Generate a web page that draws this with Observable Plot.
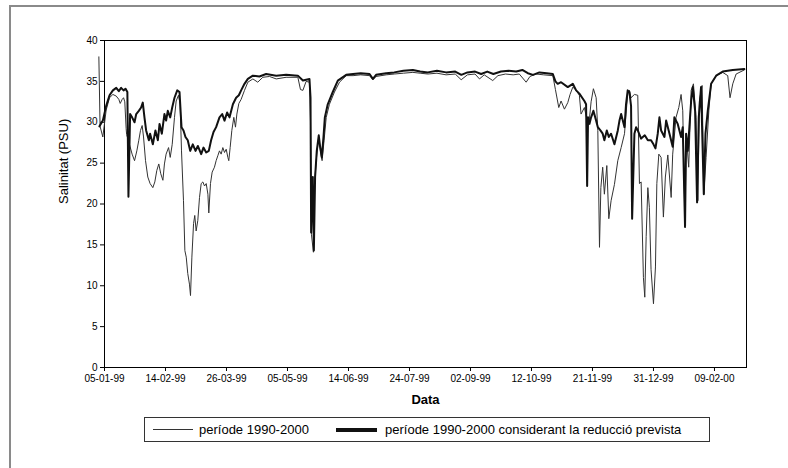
<!DOCTYPE html>
<html>
<head>
<meta charset="utf-8">
<script src="https://cdn.jsdelivr.net/npm/d3@7"></script>
<script src="https://cdn.jsdelivr.net/npm/@observablehq/plot@0.6"></script>
<style>
  body { margin: 0; background: #fff; }
  #wrap { position: relative; width: 788px; height: 468px; background: #fff; overflow: hidden;
          font-family: "Liberation Sans", Arial, sans-serif; color: #000; }
  #outer { position: absolute; left: 9px; top: 5px; width: 800px; height: 480px;
           border-left: 2px solid #8a8a8a; border-top: 2px solid #8a8a8a; pointer-events: none; }
  #legend { position: absolute; left: 144px; top: 417px; width: 564px; height: 23px;
            border: 1px solid #333; background: #fff; font-size: 13px; }
  #legend span { position: absolute; white-space: nowrap; }
</style>
</head>
<body>
<div id="wrap">
  <div id="chart"></div>
  <div id="legend">
    <span style="left:8px; top:11px; width:40px; border-top:1px solid #333;"></span>
    <span id="lab1" style="left:54px; top:4px;"></span>
    <span style="left:191px; top:10px; width:41px; border-top:4px solid #111;"></span>
    <span id="lab2" style="left:240px; top:4px;"></span>
  </div>
  <div id="outer"></div>
</div>
<script>
// ---- data (days counted from 05-01-1999) ----
const seriesNames = ["període 1990-2000", "període 1990-2000 considerant la reducció prevista"];
const tickDates = ["1999-01-05","1999-02-14","1999-03-26","1999-05-05","1999-06-14","1999-07-24","1999-09-02","1999-10-12","1999-11-21","1999-12-31","2000-02-09"];
const tickLabels = ["05-01-99","14-02-99","26-03-99","05-05-99","14-06-99","24-07-99","02-09-99","12-10-99","21-11-99","31-12-99","09-02-00"];
const yTicks = [0,5,10,15,20,25,30,35,40];

const thinDays = [-3.7,-2.9,-1.1,1.1,3.3,5.5,7.7,9.4,10.3,11.6,12.5,13.3,14.2,14.5,16.8,18.1,19.7,21.2,22.5,23.6,24.7,25.6,26.9,28.4,29.9,31.7,33.0,34.3,35.6,36.9,38.3,39.3,40.4,42.0,43.1,44.4,45.9,47.0,48.5,49.6,50.5,51.8,52.7,53.6,54.6,55.7,56.4,57.3,58.4,59.2,60.1,61.2,62.3,63.4,64.5,65.6,66.7,67.8,68.4,69.5,70.6,72.1,73.2,74.3,75.4,76.5,77.6,78.7,79.8,80.9,81.5,82.4,83.5,84.8,85.9,86.8,88.1,89.6,91.8,94.0,97.3,100.5,103.8,108.2,112.6,119.1,126.8,128.5,130.1,132.2,134.4,135.1,135.7,137.0,137.9,139.2,140.5,141.9,142.7,144.0,145.4,147.5,150.8,154.1,158.5,163,168,173.8,176.0,178.1,184.7,190,196,202.2,207,212,218,224,230,233.9,238,243,245.9,249,254.6,258,263,268,272,276.5,279,283,288,294,295.7,297.9,299.4,301.6,303.8,305.3,307.1,309.3,311.4,312.5,314.7,316.5,318,319.1,320.6,322.4,323.5,324.6,325.5,326.7,327.8,329.4,330.7,332.2,334.4,336.6,338.8,341.0,342.0,343.1,344.2,345.3,347.5,349.7,350.8,351.9,353.4,354.3,355.2,356.3,357.3,358.4,360.0,361.3,362.2,363.5,365.0,366.5,367.8,369.4,371.6,372.6,374.8,376.6,378.1,379.2,380.7,381.4,383.1,384.7,386.2,387.9,389.1,390.1,391.9,393.0,394.5,396.3,397.8,401.1,405.4,408.7,410.2,412.0,414.2,419.6];
const thinValues = [38.0,29.5,28.2,31.5,33.0,33.4,33.2,32.8,32.3,32.8,33.0,32.5,29.2,28.5,27.0,26.1,25.3,26.5,27.8,29.0,29.6,28.2,25.3,23.3,22.5,22.0,22.7,24.1,24.9,23.7,22.9,24.9,26.1,26.9,25.7,27.3,30.6,32.6,33.3,32.2,26.5,20.4,14.3,13.5,11.5,10.2,8.8,13.5,17.6,18.6,16.7,18.0,20.8,22.5,22.7,22.2,22.5,21.2,18.9,22.5,23.9,24.5,25.3,25.9,26.5,26.1,26.9,26.3,26.7,25.7,25.3,26.9,29.0,30.6,29.4,31.0,32.3,32.8,33.9,34.9,35.3,34.9,35.5,35.6,35.3,35.5,35.5,34.0,33.9,35.0,34.9,30.0,16.3,14.1,22.9,26.1,28.2,26.1,25.3,27.8,30.6,32.2,33.7,34.9,35.7,35.7,35.8,35.7,35.2,35.6,35.8,35.9,36.0,36.1,36.0,35.9,36.0,35.8,35.9,35.2,35.8,35.9,35.3,35.8,35.1,35.7,35.9,35.8,35.9,34.9,35.6,35.9,35.8,35.7,34.0,31.8,32.6,31.6,32.4,33.4,34.3,33.9,33.3,31.0,31.8,30.2,30.4,32.5,34.1,33.0,29.0,14.7,22.0,24.5,21.2,24.7,18.2,20.4,22.4,25.3,26.9,28.6,31.0,33.5,33.9,33.0,33.4,33.3,22.5,22.7,11.0,8.6,16.0,22.0,19.6,12.0,7.8,12.3,22.5,26.1,25.7,18.4,23.3,26.0,20.8,26.1,30.6,31.8,33.4,31.4,17.2,28.6,24.5,33.9,34.7,30.6,20.4,32.6,34.5,21.2,25.7,31.4,34.7,35.7,36.1,35.7,33.0,34.7,35.9,36.4];

const thickDays = [-3.3,-1.1,1.1,3.3,5.5,7.7,9.4,10.9,12.5,13.8,15.0,15.3,15.7,16.8,18.1,19.7,20.8,22.5,24.0,25.1,26.2,27.3,29.1,29.9,31.7,33.4,35.0,36.1,37.6,39.3,40.4,41.5,43.1,44.4,45.9,47.7,49.2,50.5,51.8,53.1,54.6,56.2,57.9,59.7,61.2,63.4,64.9,66.7,68.4,69.9,71.5,73.2,75.4,77.2,78.7,80.4,82.0,84.2,86.3,88.1,89.6,91.8,94.0,97.3,101.6,106.0,112.6,119.1,126.8,130.1,134.4,135.1,135.5,136.6,137.3,138.1,139.2,140.5,141.4,142.5,143.6,144.5,146.4,149.7,153.0,158.5,163,168,173.8,176.0,178.1,184.7,190,196,202.2,207,212,218,224,230,234,238,243,247,251,255,260,265,270,274,277.6,281,285.2,290,294,295.7,297.2,299.4,303.8,307.1,309.3,311.4,314.7,315.8,316.5,317.1,318.0,319.1,320.6,322.4,323.5,325.2,326.7,327.8,329.4,330.7,332.2,334.4,336.6,337.7,338.8,341.0,342.0,343.1,344.2,345.3,346.0,347.5,348.6,349.7,351.9,354.3,356.3,358.4,360.0,361.3,362.8,363.9,365.0,367.2,368.3,370.5,372.6,373.7,375.9,378.1,379.2,380.7,381.4,382.5,384.7,385.8,387.3,388.6,389.7,391.2,393.0,394.1,395.6,397.8,401.1,405.4,412.0,419.6];
const thickValues = [29.5,30.2,32.0,33.3,33.9,34.2,33.8,34.2,33.9,34.1,33.7,28.2,20.9,31.0,30.6,30.0,31.0,31.4,31.8,32.4,30.6,29.0,27.8,28.6,27.3,29.0,27.8,29.8,28.6,31.0,30.2,31.4,30.6,31.8,33.0,33.9,33.7,29.4,29.0,28.2,27.8,26.5,27.3,26.5,27.1,26.1,26.9,26.3,26.5,27.8,28.8,29.4,30.6,31.0,30.2,31.2,30.6,32.2,33.0,33.3,33.9,34.7,35.3,35.7,35.6,35.9,35.7,35.8,35.7,35.1,35.3,33.0,16.5,23.3,14.3,23.3,26.5,28.4,27.0,25.7,28.2,30.6,32.2,33.7,35.1,35.8,35.9,36.0,35.9,35.3,35.8,36.0,36.1,36.3,36.4,36.2,36.1,36.3,36.1,36.2,35.8,36.1,36.2,35.9,36.2,35.9,36.2,36.3,36.2,36.4,36.0,35.8,36.1,36.0,35.9,35.0,34.7,34.9,34.3,34.7,33.9,33.5,32.6,32.2,22.2,30.6,29.8,30.6,31.4,30.2,29.4,29.0,28.6,27.8,29.0,28.2,28.6,27.3,29.0,30.2,31.0,29.4,32.2,33.9,33.7,32.0,18.2,28.6,29.4,29.0,28.0,28.4,27.8,27.8,27.3,26.8,28.6,30.6,29.0,28.2,30.2,28.6,27.0,30.6,29.8,28.2,29.4,17.2,28.6,26.5,32.6,34.3,31.4,20.2,30.6,34.3,21.2,28.6,31.4,34.7,35.7,36.2,36.4,36.5];

// ---- build ----
const start = Date.UTC(1999, 0, 5);
const toDate = d => new Date(start + d * 864e5);
const thinRows = thinDays.map((d, i) => ({date: toDate(d), value: thinValues[i]}));
const thickRows = thickDays.map((d, i) => ({date: toDate(d), value: thickValues[i]}));
const xTicks = tickDates.map(s => new Date(s + "T00:00:00Z"));
const labelOf = new Map(xTicks.map((d, i) => [+d, tickLabels[i]]));

const chart = Plot.plot({
  width: 788,
  height: 412,
  marginLeft: 104,
  marginRight: 42,
  marginTop: 40,
  marginBottom: 45,
  style: {fontFamily: "'Liberation Sans', Arial, sans-serif", fontSize: "10px", color: "#000", background: "transparent", overflow: "visible"},
  x: {type: "utc", domain: [toDate(0), toDate(421)]},
  y: {domain: [0, 40]},
  marks: [
    Plot.axisX({ticks: xTicks, tickFormat: d => labelOf.get(+d), tickSize: 4, tickPadding: 3, label: null, fontSize: 10}),
    Plot.axisY({ticks: yTicks, tickSize: 4, tickPadding: 3, label: null, fontSize: 10}),
    Plot.frame({stroke: "#000", strokeWidth: 1}),
    Plot.line(thinRows, {x: "date", y: "value", stroke: "#333", strokeWidth: 1}),
    Plot.line(thickRows, {x: "date", y: "value", stroke: "#111", strokeWidth: 2}),
    Plot.text(["Salinitat (PSU)"], {frameAnchor: "left", dx: -41, rotate: -90, fontSize: 13, fill: "#000"}),
    Plot.text(["Data"], {frameAnchor: "bottom", dy: 36, fontSize: 13, fontWeight: "bold", fill: "#000"})
  ]
});
document.getElementById("chart").appendChild(chart);
document.getElementById("lab1").textContent = seriesNames[0];
document.getElementById("lab2").textContent = seriesNames[1];
</script>
</body>
</html>
